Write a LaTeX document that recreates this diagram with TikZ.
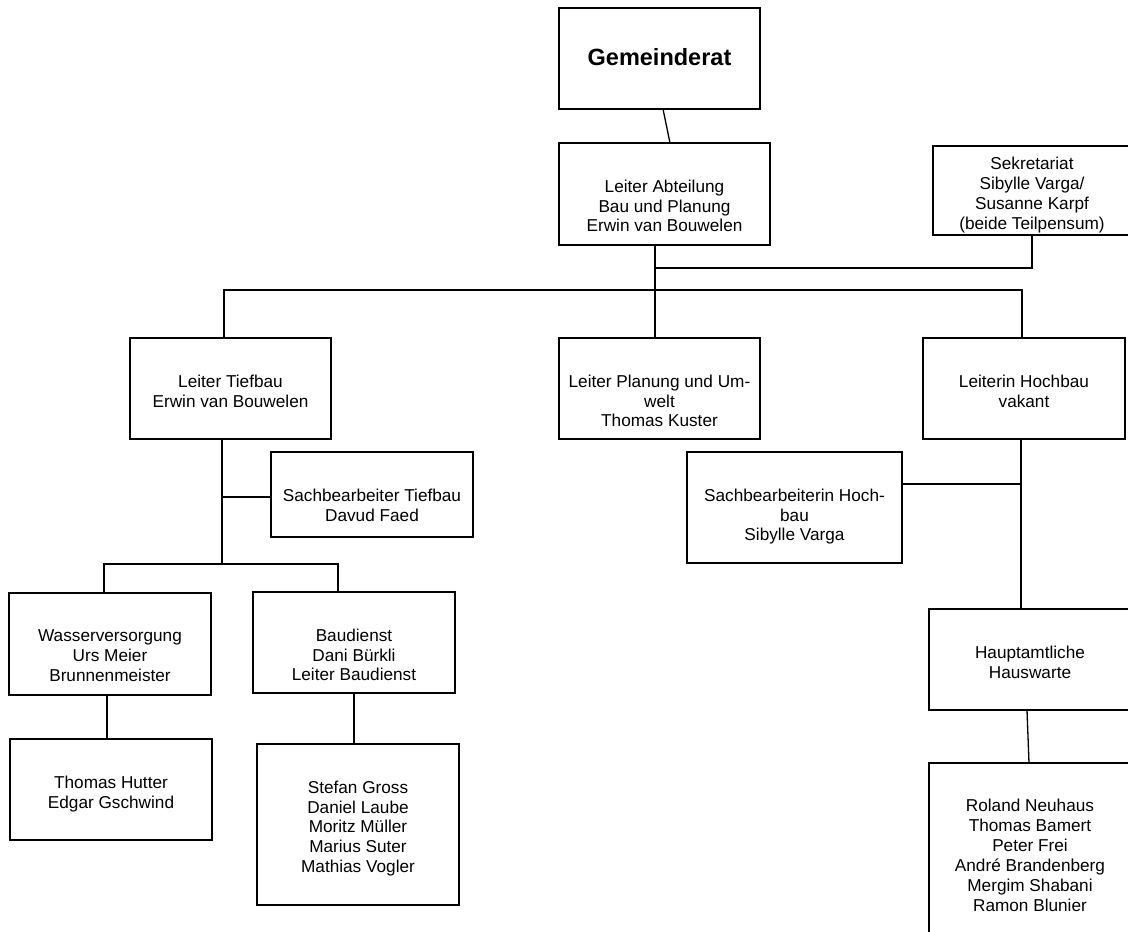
\documentclass[tikz,border=0pt]{standalone}
\usepackage{fontspec}
\setmainfont{Liberation Sans}
\tikzset{
  box/.style={draw=black, line width=1.3pt, inner sep=0pt, outer sep=0pt},
  txt/.style={font=\fontsize{17.2}{19.9}\selectfont, align=center, inner sep=0pt, anchor=north},
  bigtxt/.style={font=\fontsize{23.5}{27}\selectfont\bfseries, align=center, inner sep=0pt, anchor=north},
  conn/.style={draw=black, line width=1.3pt}
}
\newcommand\obox[5]{\node[box, minimum width={(#4)-(#2)}, minimum height={(#5)-(#3)}] (#1) at ({(#2+#4)/2},{(#3+#5)/2}) {};}
\begin{document}
\begin{tikzpicture}[x=1pt,y=-1pt]
\clip (0,0) rectangle (1128,932);
\fill[white] (0,0) rectangle (1128,932);
% boxes
\obox{G}{559}{8}{760}{109}
\obox{LA}{559}{143}{770}{245}
\obox{S}{933}{146}{1131}{235}
\obox{LT}{130}{338}{331}{439}
\obox{LP}{559}{338}{760}{439}
\obox{LH}{923}{338}{1125}{439}
\obox{SBT}{271}{452}{473}{537}
\obox{SBH}{687}{452}{902}{563}
\obox{W}{9}{593}{211}{695}
\obox{B}{253}{592}{455}{693}
\obox{TH}{10}{739}{212}{840}
\obox{SG}{257}{744}{459}{905}
\obox{HH}{929}{609}{1131}{710}
\obox{RN}{929}{763}{1131}{950}
% texts
\node[bigtxt] (tG) at ([yshift=-40pt]G.north) {Gemeinderat};
\node[txt] (tLA) at ([yshift=-36.5pt]LA.north) {Leiter Abteilung\\Bau und Planung\\Erwin van Bouwelen};
\begin{scope}
\clip (S.south west) rectangle (S.north east);
\node[txt] (tS) at ([yshift=-11pt]S.north) {Sekretariat\\Sibylle Varga/\\Susanne Karpf\\(beide Teilpensum)};
\end{scope}
\node[txt] (tLT) at ([yshift=-36.5pt]LT.north) {Leiter Tiefbau\\Erwin van Bouwelen};
\node[txt] (tLP) at ([yshift=-36.5pt]LP.north) {Leiter Planung und Um-\\welt\\Thomas Kuster};
\node[txt] (tLH) at ([yshift=-36.5pt]LH.north) {Leiterin Hochbau\\vakant};
\node[txt] (tSBT) at ([yshift=-36.5pt]SBT.north) {Sachbearbeiter Tiefbau\\Davud Faed};
\node[txt] (tSBH) at ([yshift=-36.5pt]SBH.north) {Sachbearbeiterin Hoch-\\bau\\Sibylle Varga};
\node[txt] (tW) at ([yshift=-36.5pt]W.north) {Wasserversorgung\\Urs Meier\\Brunnenmeister};
\node[txt] (tB) at ([yshift=-36.5pt]B.north) {Baudienst\\Dani Bürkli\\Leiter Baudienst};
\node[txt] (tTH) at ([yshift=-36.5pt]TH.north) {Thomas Hutter\\Edgar Gschwind};
\node[txt] (tSG) at ([yshift=-36.5pt]SG.north) {Stefan Gross\\Daniel Laube\\Moritz Müller\\Marius Suter\\Mathias Vogler};
\node[txt] (tHH) at ([yshift=-36.5pt]HH.north) {Hauptamtliche\\Hauswarte};
\node[txt] (tRN) at ([yshift=-36pt]RN.north) {Roland Neuhaus\\Thomas Bamert\\Peter Frei\\André Brandenberg\\Mergim Shabani\\Ramon Blunier};
% junction coordinates
\coordinate (j1) at (655,268);
\coordinate (bus) at (655,290);
\coordinate (tb) at (222,564);
% connectors
\draw[conn] ([xshift=3.5pt]G.south) -- ([xshift=5.5pt]LA.north);
\draw[conn] ([xshift=-9.5pt]LA.south) -- ([xshift=-4.5pt]LP.north);
\draw[conn] (S.south) |- (j1);
\draw[conn] ([xshift=-6.5pt]LT.north) |- (bus) -| ([xshift=-2pt]LH.north);
\draw[conn] ([xshift=-8.5pt]LT.south) -- (tb);
\draw[conn] ([yshift=-2.5pt]SBT.west) -| (tb);
\draw[conn] ([xshift=-6pt]W.north) |- (tb) -| ([xshift=-16pt]B.north);
\draw[conn] ([xshift=-3pt]W.south) -- ([xshift=-4pt]TH.north);
\draw[conn] (B.south) -- ([xshift=-4pt]SG.north);
\draw[conn] ([xshift=-3pt]LH.south) -- ([xshift=-9pt]HH.north);
\draw[conn] ([yshift=23.5pt]SBH.east) -| ([xshift=-3pt]LH.south);
\draw[conn] ([xshift=-3pt]HH.south) -- ([xshift=-1pt]RN.north);
\end{tikzpicture}
\end{document}
